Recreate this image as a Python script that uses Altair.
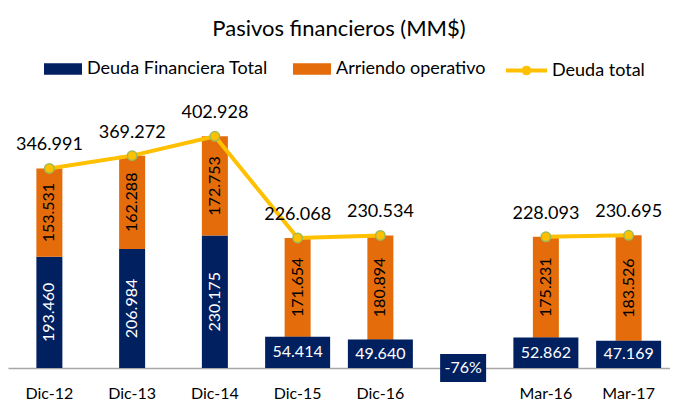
import altair as alt
import pandas as pd

# ---- data ----
categorias = ["Dic-12", "Dic-13", "Dic-14", "Dic-15", "Dic-16", " ", "Mar-16", "Mar-17"]
periodos = ["Dic-12", "Dic-13", "Dic-14", "Dic-15", "Dic-16", "Mar-16", "Mar-17"]
deuda_financiera = [193.460, 206.984, 230.175, 54.414, 49.640, 52.862, 47.169]
arriendo_operativo = [153.531, 162.288, 172.753, 171.654, 180.894, 175.231, 183.526]
deuda_total = [346.991, 369.272, 402.928, 226.068, 230.534, 228.093, 230.695]
tramo = ["dic", "dic", "dic", "dic", "dic", "mar", "mar"]
variacion_cat = [" "]
variacion_txt = ["-76%"]
variacion_lo = [-24.3]
variacion_hi = [24.3]

S1, S2, S3 = "Deuda Financiera Total", "Arriendo operativo", "Deuda total"
NAVY, ORANGE, YELLOW, GREEN = "#002060", "#E46C0A", "#FFC000", "#9BBB59"
FONT = "Lato"

rows = []
for p, d, a in zip(periodos, deuda_financiera, arriendo_operativo):
    rows.append({"cat": p, "serie": S1, "y0": 0.0, "y1": d, "mid": d / 2,
                 "lab": f"{d:.3f}", "small": d < 100})
    rows.append({"cat": p, "serie": S2, "y0": d, "y1": d + a, "mid": d + a / 2,
                 "lab": f"{a:.3f}", "small": False})
bars = pd.DataFrame(rows)
tot = pd.DataFrame({"cat": periodos, "total": deuda_total, "tramo": tramo,
                    "serie": [S3] * len(periodos),
                    "lab": [f"{v:.3f}" for v in deuda_total]})
var = pd.DataFrame({"cat": variacion_cat, "txt": variacion_txt,
                    "lo": variacion_lo, "hi": variacion_hi, "mid": [0.0]})

xs = alt.Scale(domain=categorias, paddingInner=0, paddingOuter=0)
ys = alt.Scale(domain=[0, 466], nice=False, zero=False)
X = alt.X("cat:N", scale=xs, sort=categorias,
          axis=alt.Axis(title=None, labelAngle=0, ticks=False, domainColor="#A6A6A6",
                        domainWidth=1.5, labelFontSize=16, labelFont=FONT,
                        labelColor="#000000", labelPadding=17, grid=False))

rect_path = "M-1,-0.3L1,-0.3L1,0.3L-1,0.3Z"
line_path = "M-1,0L1,0M-0.14,0A0.14,0.14,0,1,0,0.14,0A0.14,0.14,0,1,0,-0.14,0Z"

base_b = alt.Chart(bars)
bar_layer = base_b.mark_bar(size=26).encode(
    x=X,
    y=alt.Y("y0:Q", scale=ys, axis=None),
    y2="y1:Q",
    color=alt.Color("serie:N", scale=alt.Scale(domain=[S1, S2], range=[NAVY, ORANGE]),
                    legend=alt.Legend(title=None, orient="none", legendX=36, legendY=-50,
                                      direction="horizontal", symbolType=rect_path,
                                      symbolSize=1444, symbolStrokeWidth=0,
                                      labelFontSize=18, labelFont=FONT, labelColor="#000000",
                                      labelLimit=400, columnPadding=25, labelOffset=5)),
)
box_layer = base_b.transform_filter("datum.small").mark_bar(size=65, color=NAVY).encode(
    x=X, y=alt.Y("y0:Q", scale=ys), y2="y1:Q")
rot_navy = base_b.transform_filter(f"!datum.small && datum.serie == '{S1}'").mark_text(
    angle=270, fontSize=16, font=FONT, baseline="middle", align="center",
    color="#FFFFFF").encode(x=X, y=alt.Y("mid:Q", scale=ys), text="lab:N")
rot_orange = base_b.transform_filter(f"datum.serie == '{S2}'").mark_text(
    angle=270, fontSize=16, font=FONT, baseline="middle", align="center",
    color="#000000").encode(x=X, y=alt.Y("mid:Q", scale=ys), text="lab:N")
small_labels = base_b.transform_filter("datum.small").mark_text(
    fontSize=16, font=FONT, color="#FFFFFF", baseline="middle").encode(
    x=X, y=alt.Y("mid:Q", scale=ys), text="lab:N")

var_box = alt.Chart(var).mark_bar(size=46, color=NAVY).encode(
    x=X, y=alt.Y("lo:Q", scale=ys), y2="hi:Q")
var_txt = alt.Chart(var).mark_text(fontSize=16, font=FONT, color="#FFFFFF",
                                   baseline="middle").encode(
    x=X, y=alt.Y("mid:Q", scale=ys), text="txt:N")

base_t = alt.Chart(tot)
line = base_t.mark_line(strokeWidth=4).encode(
    x=X, y=alt.Y("total:Q", scale=ys), detail="tramo:N",
    stroke=alt.Stroke("serie:N", scale=alt.Scale(domain=[S3], range=[YELLOW]),
                      legend=alt.Legend(title=None, orient="none", legendX=496, legendY=-52,
                                        direction="horizontal", symbolType=line_path,
                                        symbolSize=1681, symbolStrokeWidth=4,
                                        symbolFillColor=YELLOW,
                                        labelFontSize=18, labelFont=FONT,
                                        labelColor="#000000", labelOffset=3)))
points = base_t.mark_point(filled=True, size=90, fill=YELLOW, stroke=GREEN,
                           strokeWidth=1.5, opacity=1).encode(
    x=X, y=alt.Y("total:Q", scale=ys))
tot_labels = base_t.mark_text(fontSize=18, font=FONT, color="#000000", dy=-23,
                              baseline="middle").encode(
    x=X, y=alt.Y("total:Q", scale=ys), text="lab:N")

chart = alt.layer(bar_layer, box_layer, var_box, line, points, rot_navy, rot_orange,
                  small_labels, var_txt, tot_labels).properties(
    width=662, height=268,
    autosize=alt.AutoSizeParams(type="none"),
    padding={"left": 0, "top": 92, "right": 0, "bottom": 34},
    title=alt.TitleParams("Pasivos financieros (MM$)", fontSize=22, font=FONT,
                          fontWeight="normal", color="#000000", anchor="middle",
                          offset=7),
).configure_view(stroke=None)

chart.save("out.html", embed_options={"renderer": "svg", "actions": False})
